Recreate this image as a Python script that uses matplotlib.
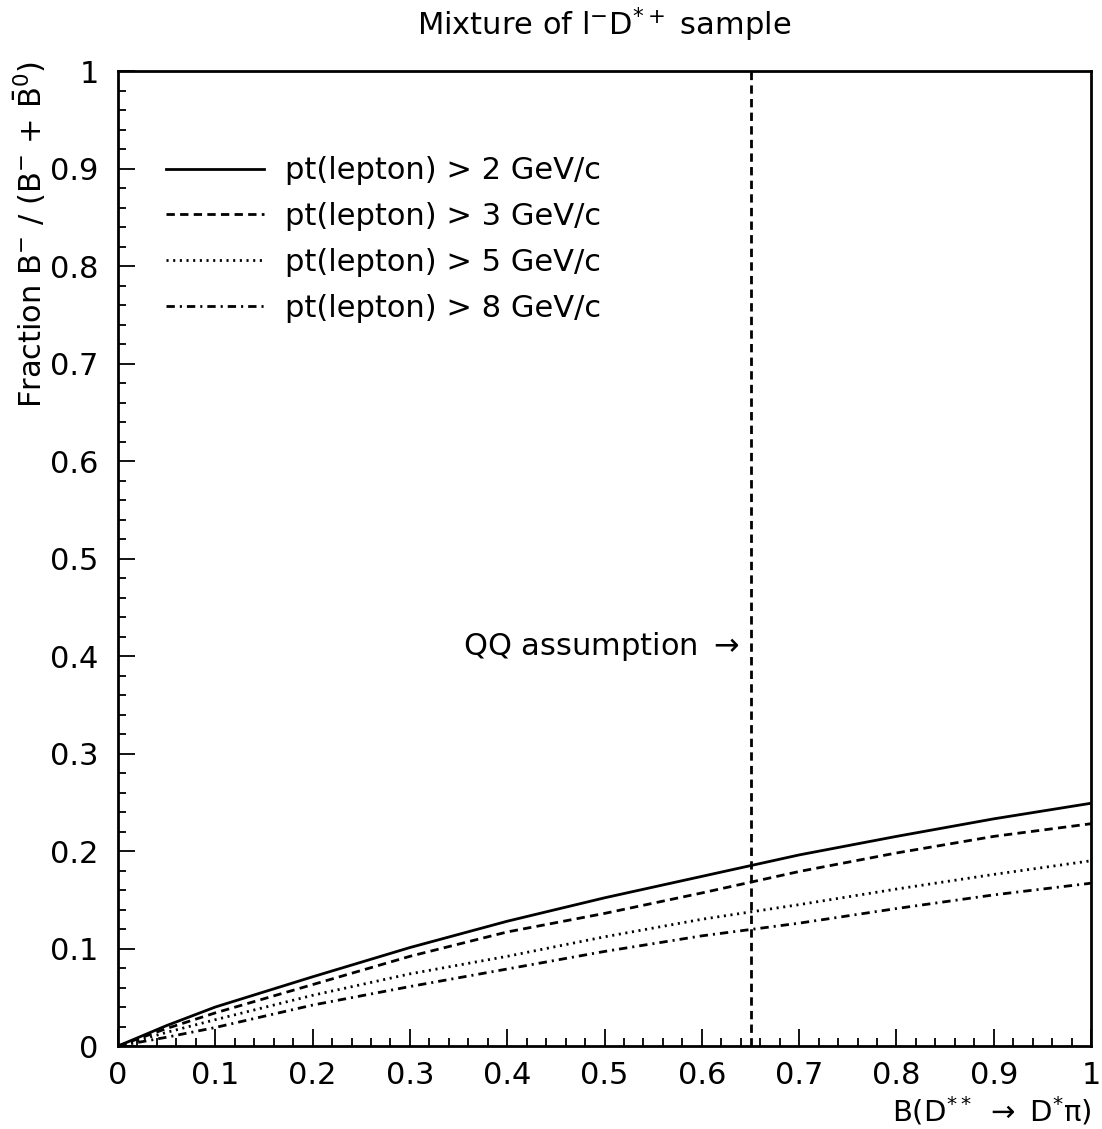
import numpy as np
import matplotlib
matplotlib.use("Agg")
import matplotlib.pyplot as plt
from matplotlib.ticker import MultipleLocator, FixedLocator

# data
br = [0.0, 0.05, 0.1, 0.2, 0.3, 0.4, 0.5, 0.6, 0.7, 0.8, 0.9, 1.0]
frac_pt2 = [0.0, 0.021, 0.040, 0.071, 0.101, 0.128, 0.152, 0.174, 0.196, 0.215, 0.233, 0.249]
frac_pt3 = [0.0, 0.018, 0.034, 0.063, 0.092, 0.117, 0.136, 0.157, 0.179, 0.198, 0.215, 0.228]
frac_pt5 = [0.0, 0.014, 0.027, 0.052, 0.074, 0.092, 0.112, 0.130, 0.145, 0.161, 0.176, 0.190]
frac_pt8 = [0.0, 0.009, 0.019, 0.042, 0.061, 0.079, 0.097, 0.113, 0.126, 0.141, 0.155, 0.167]
labels = ["pt(lepton) > 2 GeV/c", "pt(lepton) > 3 GeV/c",
          "pt(lepton) > 5 GeV/c", "pt(lepton) > 8 GeV/c"]
qq_x = 0.65
tick_vals = [0, 0.1, 0.2, 0.3, 0.4, 0.5, 0.6, 0.7, 0.8, 0.9, 1]
tick_text = ["0", "0.1", "0.2", "0.3", "0.4", "0.5", "0.6", "0.7", "0.8", "0.9", "1"]

plt.rcParams['mathtext.default'] = 'regular'
plt.rcParams['lines.scale_dashes'] = False
plt.rcParams['font.family'] = ['DejaVu Sans']

fs = 22
fig = plt.figure(figsize=(11.02, 11.29), dpi=100)
ax = fig.add_axes([0.1071, 0.0735, 0.8830, 0.8636])

styles = ['-', (0, (6.0, 3.8)), (0, (1.5, 3.3)), (0, (6.0, 3.6, 1.5, 3.6))]
for y, lab, ls in zip([frac_pt2, frac_pt3, frac_pt5, frac_pt8], labels, styles):
    ax.plot(br, y, color='black', lw=2.0, linestyle=ls, label=lab)

ax.axvline(qq_x, color='black', lw=2.0, linestyle=(0, (6.0, 3.8)))
ax.text(0.639, 0.41, r"QQ assumption $\rightarrow$", fontsize=fs,
        ha='right', va='center')

ax.set_xlim(0, 1)
ax.set_ylim(0, 1)
ax.xaxis.set_major_locator(FixedLocator(tick_vals))
ax.yaxis.set_major_locator(FixedLocator(tick_vals))
ax.set_xticklabels(tick_text)
ax.set_yticklabels(tick_text)
ax.xaxis.set_minor_locator(MultipleLocator(0.02))
ax.yaxis.set_minor_locator(MultipleLocator(0.02))
ax.tick_params(which='both', direction='in', top=False, right=False,
               labelsize=fs, width=1.3)
ax.tick_params(which='major', length=12)
ax.tick_params(which='minor', length=6)
ax.tick_params(axis='x', pad=11)
ax.tick_params(axis='y', pad=14)
for sp in ax.spines.values():
    sp.set_linewidth(2.0)

ax.set_title(r"Mixture of l$^{-}$D$^{*+}$ sample", fontsize=fs, pad=26)
ax.set_xlabel(r"B(D$^{**}$ $\rightarrow$ D$^{*}\pi$)", fontsize=21, loc='right')
ax.xaxis.set_label_coords(1.0, -0.05)
ax.set_ylabel(r"Fraction B$^{-}$ / (B$^{-}$ + $\bar{B}^{0}$)", fontsize=fs, loc='top')
ax.yaxis.set_label_coords(-0.072, 1.01)

ax.legend(loc='upper left', bbox_to_anchor=(0.037, 0.925), frameon=False,
          fontsize=fs, handlelength=3.2, handletextpad=0.7, labelspacing=0.55,
          borderaxespad=0)

fig.savefig("out.png", dpi=100)
